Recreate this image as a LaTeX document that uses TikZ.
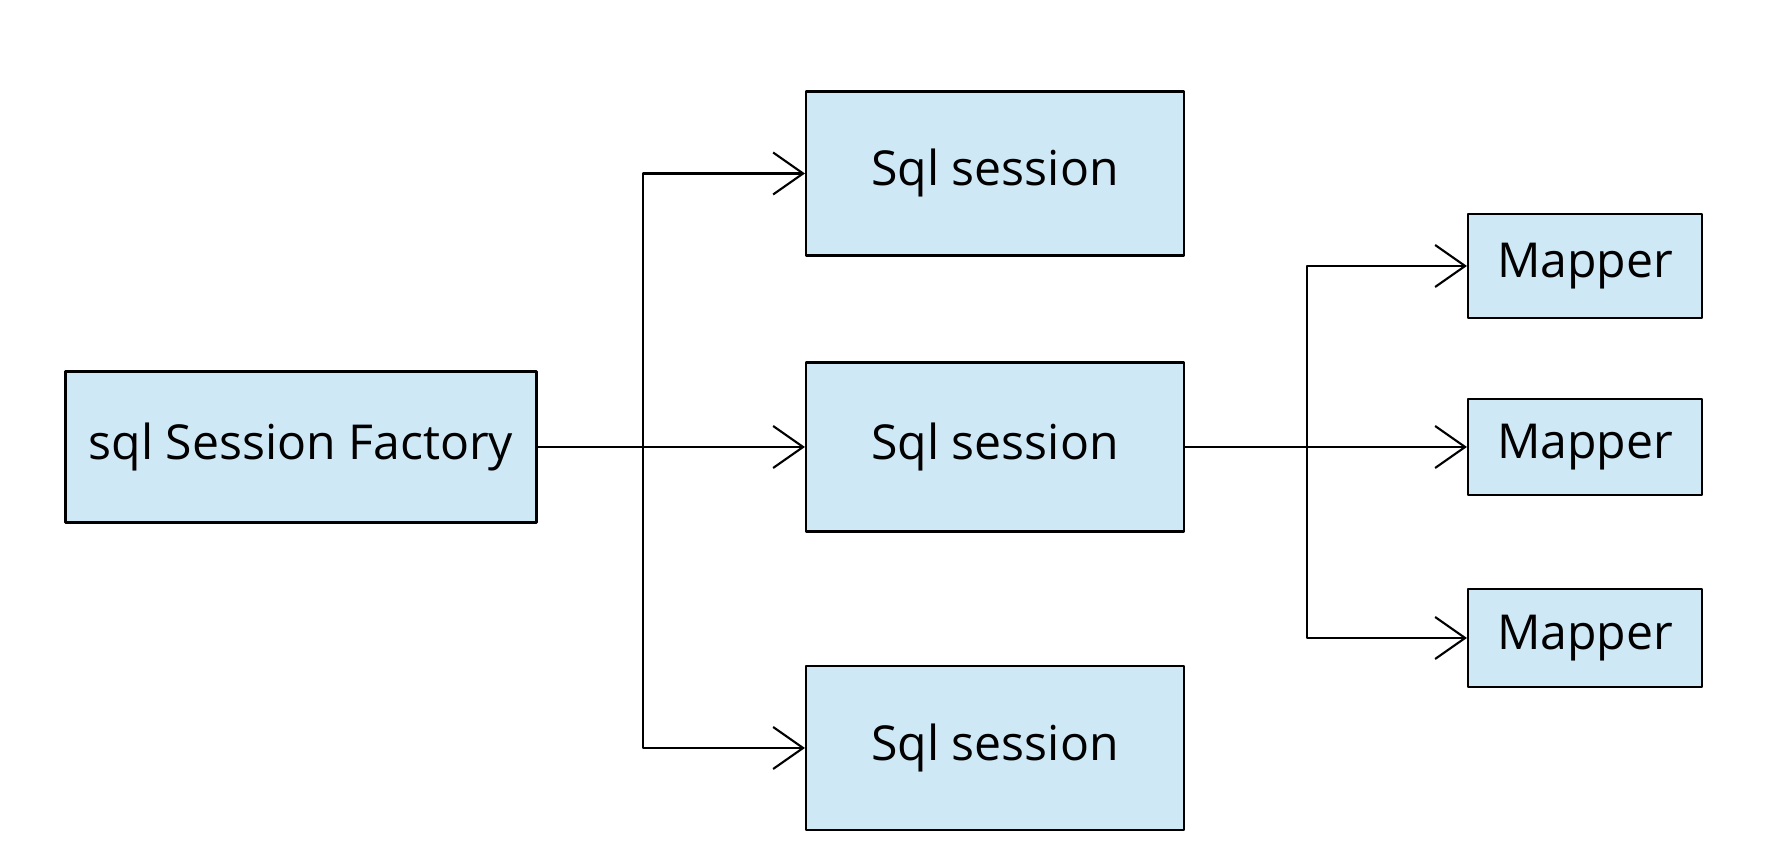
\documentclass[tikz,border=0pt]{standalone}
\usepackage{fontspec}
\setmainfont{Open Sans}
\usetikzlibrary{arrows.meta}
\definecolor{boxblue}{RGB}{207,232,246}
\begin{document}
\begin{tikzpicture}[>={Straight Barb[length=3mm,width=4.2mm]},line join=round,
	font=\fontsize{13.7}{17}\selectfont,
	box/.style={draw,fill=boxblue,line width=0.6pt,inner sep=0pt},
	link/.style={->,line width=0.6pt}]
		\useasboundingbox (0,0) rectangle (17.73,8.58);
		\node[box,minimum width=4.71cm,minimum height=1.51cm] (fac) at (3.01,4.11){sql Session Factory};
		\node[box,minimum width=3.78cm,minimum height=1.64cm] (ses1) at (9.95,6.845){Sql session};
		\node[box,minimum width=3.78cm,minimum height=1.69cm] (ses2) at (9.95,4.11){Sql session};
		\node[box,minimum width=3.78cm,minimum height=1.64cm] (ses3) at (9.95,1.10){Sql session};
		\node[box,minimum width=2.34cm,minimum height=1.04cm] (map1) at (15.85,5.92){Mapper};
		\node[box,minimum width=2.34cm,minimum height=0.96cm] (map2) at (15.85,4.11){Mapper};
		\node[box,minimum width=2.34cm,minimum height=0.98cm] (map3) at (15.85,2.20){Mapper};
		\coordinate (fork1) at (6.43,4.11);
		\coordinate (fork2) at (13.07,4.11);
		\draw[link] (fac.east)--(ses2.west);
		\draw[link] (fork1)|-(ses1.west);
		\draw[link] (fork1)|-(ses3.west);
		\draw[link] (ses2.east)--(map2.west);
		\draw[link] (fork2)|-(map1.west);
		\draw[link] (fork2)|-(map3.west);
\end{tikzpicture}
\end{document}
